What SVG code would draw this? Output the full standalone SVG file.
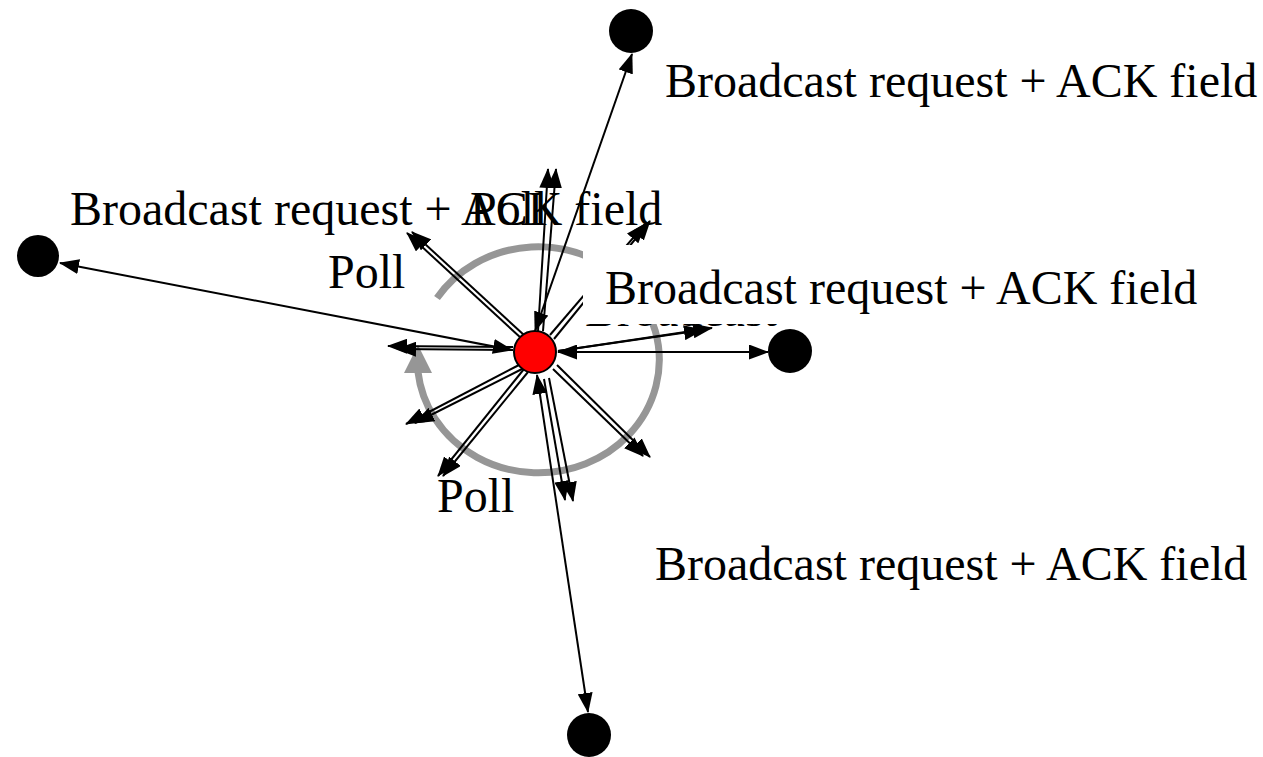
<svg xmlns="http://www.w3.org/2000/svg" width="1263" height="757" viewBox="0 0 1263 757">
  <style>
    .lbl { font-family: "Liberation Serif", "Times New Roman", serif; font-size: 48px; fill: #000; }
    .ln { stroke: #000; stroke-width: 2; fill: none; }
    .dl { stroke: #000; stroke-width: 2; fill: none; }
    .arc { stroke: #969696; stroke-width: 7; fill: none; }
    .node { fill: #000; }
  </style>
  <defs>
    <marker id="ah" viewBox="0 0 20 15" markerWidth="20" markerHeight="15" refX="19" refY="7.5" orient="auto-start-reverse" markerUnits="userSpaceOnUse">
      <path d="M0,0 L20,7.5 L0,15 z" fill="#000"/>
    </marker>
    <clipPath id="band">
      <rect x="580" y="324" width="220" height="10"/>
    </clipPath>
  </defs>

  <rect width="1263" height="757" fill="#fff"/>

  <!-- rotation around the coordinator -->
  <g id="rotation">
    <path class="arc" d="M437,298 A121 113 0 1 1 418,372"/>
    <polygon points="404,373 432,373 418,345" fill="#969696"/>
  </g>

  <g id="connectors">
    <!-- links to the four stations (both directions) -->
    <line class="ln" x1="535" y1="331" x2="632" y2="54" marker-start="url(#ah)" marker-end="url(#ah)"/>
    <line class="ln" x1="512" y1="350" x2="60" y2="263" marker-start="url(#ah)" marker-end="url(#ah)"/>
    <line class="ln" x1="558" y1="352" x2="768" y2="352" marker-start="url(#ah)" marker-end="url(#ah)"/>
    <line class="ln" x1="537" y1="375" x2="588" y2="712" marker-start="url(#ah)" marker-end="url(#ah)"/>

    <!-- paired poll / broadcast rays -->
    <line class="dl" x1="538" y1="331" x2="548" y2="169" marker-end="url(#ah)"/>
    <line class="dl" x1="543" y1="331" x2="556" y2="169" marker-end="url(#ah)"/>

    <line class="dl" x1="521" y1="338" x2="407" y2="233" marker-end="url(#ah)"/>
    <line class="dl" x1="524" y1="335" x2="412" y2="232" marker-end="url(#ah)"/>

    <line class="dl" x1="550" y1="335" x2="645" y2="224" marker-end="url(#ah)"/>
    <line class="dl" x1="554" y1="339" x2="650" y2="221" marker-end="url(#ah)"/>

    <line class="ln" x1="558" y1="351" x2="712" y2="328" marker-end="url(#ah)"/>
    <line class="ln" x1="558" y1="351" x2="703" y2="330" marker-end="url(#ah)"/>

    <line class="dl" x1="513" y1="347" x2="388" y2="346" marker-end="url(#ah)"/>
    <line class="dl" x1="513" y1="350" x2="397" y2="349" marker-end="url(#ah)"/>

    <line class="dl" x1="519" y1="365" x2="406" y2="424" marker-end="url(#ah)"/>
    <line class="dl" x1="522" y1="369" x2="415" y2="423" marker-end="url(#ah)"/>

    <line class="dl" x1="524" y1="369" x2="438" y2="476" marker-end="url(#ah)"/>
    <line class="dl" x1="528" y1="372" x2="443" y2="476" marker-end="url(#ah)"/>

    <line class="dl" x1="544" y1="379" x2="565" y2="500" marker-end="url(#ah)"/>
    <line class="dl" x1="549" y1="378" x2="573" y2="501" marker-end="url(#ah)"/>

    <line class="dl" x1="553" y1="369" x2="643" y2="456" marker-end="url(#ah)"/>
    <line class="dl" x1="557" y1="365" x2="650" y2="457" marker-end="url(#ah)"/>
  </g>

  <!-- caption mostly hidden behind the boxed label -->
  <text class="lbl" x="585" y="326" clip-path="url(#band)">Broadcast</text>

  <g id="labels">
    <text class="lbl" x="665" y="97">Broadcast request + ACK field</text>
    <text class="lbl" x="70" y="225">Broadcast request + ACK field</text>
    <text class="lbl" x="470" y="225">Poll</text>
    <text class="lbl" x="328" y="288">Poll</text>
    <rect x="583" y="245" width="620" height="79" fill="#fff"/>
    <text class="lbl" x="605" y="304">Broadcast request + ACK field</text>
    <text class="lbl" x="437" y="512">Poll</text>
    <text class="lbl" x="655" y="580">Broadcast request + ACK field</text>
  </g>

  <g id="coordinator">
    <circle cx="535" cy="352" r="21" fill="#ff0000" stroke="#000" stroke-width="2"/>
  </g>
  <g id="station-top"><circle class="node" cx="631" cy="31" r="22"/></g>
  <g id="station-left"><circle class="node" cx="38" cy="256" r="21"/></g>
  <g id="station-right"><circle class="node" cx="790" cy="351" r="22"/></g>
  <g id="station-bottom"><circle class="node" cx="589" cy="735" r="22"/></g>
</svg>
